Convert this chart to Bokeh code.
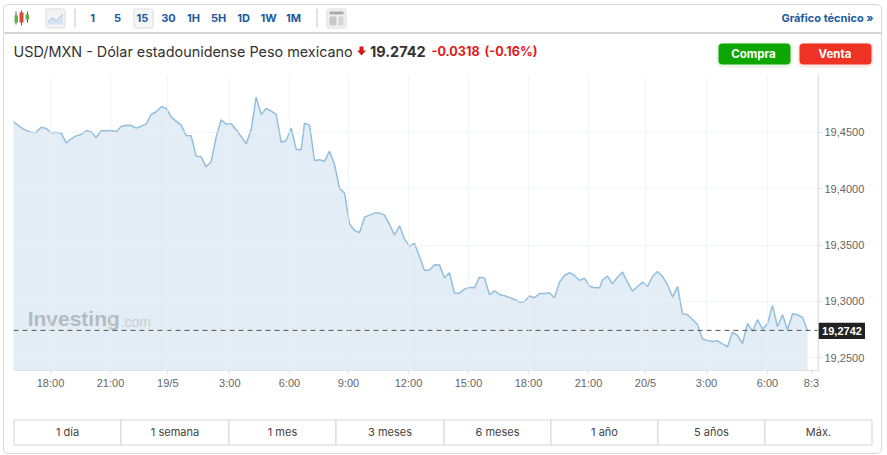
from bokeh.plotting import figure
from bokeh.layouts import column
from bokeh.models import FixedTicker, Span, Div, Range1d
from bokeh.core.properties import value
from bokeh.embed import file_html
from bokeh.resources import INLINE
import numpy as np

# ---------- data ----------
prices_a = [19.4610,19.4577,19.4544,19.4518,19.4503,19.4500,19.4547,19.4536,19.4497,19.4503,19.4494,19.4408,19.4444,19.4470,19.4482,19.4515,19.4506,19.4456,19.4515,19.4515,19.4518,19.4506,19.4553,19.4565,19.4562,19.4539,19.4556,19.4574,19.4660,19.4684,19.4728,19.4716,19.4639,19.4601,19.4565,19.4473,19.4470,19.4290,19.4284,19.4195,19.4240,19.4459,19.4613,19.4574,19.4580,19.4524,19.4465,19.4399,19.4524,19.4814,19.4660,19.4713,19.4689,19.4660,19.4414,19.4429,19.4539,19.4352,19.4346]
prices_b = [19.4583,19.4565,19.4251,19.4257,19.4245,19.4334,19.4216,19.4006,19.3961,19.3689,19.3630,19.3609,19.3748,19.3766,19.3784,19.3784,19.3766,19.3683,19.3588,19.3671,19.3553,19.3491,19.3514,19.3399,19.3275,19.3278,19.3325,19.3322,19.3209,19.3254,19.3073,19.3073,19.3109,19.3124,19.3121,19.3215,19.3207,19.3059,19.3094,19.3061,19.3050,19.3035,19.3017,19.2993,19.2999,19.3047,19.3032,19.3070,19.3070,19.3076,19.3032,19.3171,19.3230,19.3254,19.3230,19.3186,19.3207,19.3135,19.3121,19.3121]
prices_c = [19.3192,19.3224,19.3156,19.3215,19.3260,19.3171,19.3091,19.3132,19.3171,19.3132,19.3221,19.3266,19.3221,19.3147,19.3038,19.3132,19.2890,19.2881,19.2839,19.2795,19.2665,19.2653,19.2644,19.2650,19.2623,19.2597,19.2727,19.2697,19.2626,19.2804,19.2733,19.2839,19.2753,19.2801,19.2964,19.2774,19.2881,19.2748,19.2890,19.2881,19.2857,19.2742]
seg_start = [-1.0, 57.67, 117.27]
last_price = 19.2742
x_ticks = [6.87,18.87,30.33,42.73,54.67,66.47,78.47,90.47,102.47,114.47,125.87,138.07,150.27]
x_labels = ["18:00","21:00","19/5","3:00","6:00","9:00","12:00","15:00","18:00","21:00","20/5","3:00","6:00"]
y_ticks = [19.25,19.30,19.35,19.40,19.45]
y_labels = ["19,2500","19,3000","19,3500","19,4000","19,4500"]
range_labels = ["1 día","1 semana","1 mes","3 meses","6 meses","1 año","5 años","Máx."]
interval_labels = ["1","5","15","30","1H","5H","1D","1W","1M"]

t = np.concatenate([s + np.arange(len(v)) for s, v in zip(seg_start, [prices_a, prices_b, prices_c])])
prices = prices_a + prices_b + prices_c

UI = value("Inter")
AX = value("Liberation Sans")
BLUE = "#1c5a9e"

def chrome(h0, h1, x0=0, x1=887, **kw):
    f = figure(width=x1-x0, height=h1-h0, x_range=(x0,x1), y_range=(h1,h0), output_backend="svg",
               toolbar_location=None, x_axis_location=None, y_axis_location=None, min_border=0,
               frame_align=False, outline_line_color=None, background_fill_color=None, border_fill_color=None, **kw)
    f.grid.visible = False
    return f

# ---------- header ----------
h = chrome(0, 74)
h.segment([74.5,316.5,4],[8,8,32.5],[74.5,316.5,882],[27,27,32.5],line_color=["#c4c4c4","#c4c4c4","#aaaaaa"],line_width=1)
# candle icon
h.segment([15.5,21,27],[11,10,11],[15.5,21,27],[24,25,22],line_color="#555555",line_width=1)
h.quad(left=[14,19,25],right=[17.5,23,28.5],top=[15,12,14],bottom=[22,22,19],fill_color=["#5cb050","#e0453a","#5cb050"],line_color=None)
# line icon
h.quad(left=[45.5],right=[64.5],top=[8.5],bottom=[27.5],fill_color="#f1f3f5",line_color="#dddddd",border_radius=2)
h.patch([47.5,52,56,60,62.5,62.5,47.5],[21,17.5,20,16,14,24,24],fill_color="#d5e2ef",line_color=None)
h.line([47.5,52,56,60,62.5],[21,17.5,20,16,14],line_color="#a4c2de",line_width=1)
# selected interval and layout icon
h.quad(left=[133.5],right=[152.5],top=[8.5],bottom=[27.5],fill_color="#f5f6f7",line_color="#dddddd",border_radius=2)
h.quad(left=[326.5],right=[345.5],top=[8.5],bottom=[27.5],fill_color="#f0f0f0",line_color="#dddddd",border_radius=2)
h.quad(left=[329,329,338],right=[343,336,343],top=[11,16,16],bottom=[14,25,25],fill_color=["#aaaaaa","#c8c8c8","#d4d4d4"],line_color=None)
h.text(x=[92,117,142,168,193,218,243,268,293],y=[17]*9,text=interval_labels,text_font=UI,text_font_size="11px",
       text_font_style="bold",text_color=BLUE,text_align="center",text_baseline="middle")
h.text(x=[873],y=[17],text=["Gráfico técnico »"],text_font=UI,text_font_size="11px",text_font_style="bold",
       text_color=BLUE,text_align="right",text_baseline="middle")
h.text(x=[13],y=[50.5],text=["USD/MXN - Dólar estadounidense Peso mexicano"],text_font=UI,text_font_size="14.4px",
       text_color="#333333",text_align="left",text_baseline="middle")
h.patch([359,363,363,365.5,361,356.5,359],[46,46,50,50,55,50,50],fill_color="#d61a1a",line_color=None)
h.text(x=[369.5],y=[50.5],text=["19.2742"],text_font=UI,text_font_size="14.5px",text_font_style="bold",
       text_color="#333333",text_align="left",text_baseline="middle")
h.text(x=[431,484],y=[50.5,50.5],text=["-0.0318","(-0.16%)"],text_font=UI,text_font_size="12.6px",text_font_style="bold",
       text_color="#e01b1b",text_align="left",text_baseline="middle")
h.quad(left=[716,797],right=[792,873],top=[42,42],bottom=[67,67],fill_color=["#0ea600","#ee3224"],fill_alpha=0.1,line_color=None,border_radius=6)
h.quad(left=[718,799],right=[790,871],top=[43,43],bottom=[64,64],fill_color=["#0ea600","#ee3224"],line_color=None,border_radius=4)
h.text(x=[753,834.5],y=[53.5,53.5],text=["Compra","Venta"],text_font=UI,text_font_size="11.5px",text_font_style="bold",
       text_color="#ffffff",text_align="center",text_baseline="middle")

# ---------- chart ----------
p = figure(width=887, height=321, frame_width=805, frame_height=296, output_backend="svg", toolbar_location=None,
           x_range=Range1d(-0.534,160.47), y_range=Range1d(19.2386,19.5015), y_axis_location="right",
           min_border_left=13, min_border_right=69, min_border_top=0, min_border_bottom=25, frame_align=False,
           outline_line_color=None, background_fill_color=None, border_fill_color=None)
p.varea(t, [19.2386]*len(t), prices, fill_color="#e3edf5")
p.line(t, prices, line_color="#93bfdf", line_width=1.5)
p.xaxis.ticker = FixedTicker(ticks=x_ticks+[159.07])
p.xaxis.major_label_overrides = {**dict(zip(x_ticks,x_labels)), 159.07:"8:3"}
p.yaxis.ticker = FixedTicker(ticks=y_ticks)
p.yaxis.major_label_overrides = dict(zip(y_ticks,y_labels))
p.xgrid.ticker = FixedTicker(ticks=x_ticks+[160.2])
p.ygrid.ticker = FixedTicker(ticks=y_ticks)
p.grid.grid_line_color = "#e9eef3"
p.grid.grid_line_alpha = 0.6
p.grid.level = "overlay"
for ax in (p.xaxis[0], p.yaxis[0]):
    ax.axis_line_color = "#dde3e8"
    ax.major_tick_line_color = "#dde3e8"
    ax.major_tick_out = 4
    ax.major_tick_in = 0
    ax.minor_tick_line_color = None
    ax.major_label_text_font = "Liberation Sans"
    ax.major_label_text_font_size = "11px"
    ax.major_label_text_color = "#666666"
    ax.major_label_standoff = 2
p.add_layout(Span(location=last_price, dimension="width", line_color="#555555", line_dash="5 4", line_width=1))
p.text(x=[2.3],y=[19.2847],text=["Investing"],text_font=AX,text_font_size="21px",text_font_style="bold",
       text_color="#b4bbc0",text_align="left",text_baseline="middle")
p.text(x=[20.9],y=[19.2818],text=[".com"],text_font=AX,text_font_size="14px",text_color="#c6cdd2",
       text_align="left",text_baseline="middle")

# ---------- price tag ----------
tag = chrome(322, 339, 818, 865, styles={"position":"absolute","left":"818px","top":"322px"})
tag.quad(left=[818],right=[865],top=[322],bottom=[339],fill_color="#222222",line_color=None)
tag.text(x=[841.5],y=[330.5],text=["19,2742"],text_font=AX,text_font_size="11px",text_font_style="bold",
         text_color="#ffffff",text_align="center",text_baseline="middle")

# ---------- footer ----------
edges = [13.5,120.5,228.5,335.5,443.5,550.5,657.5,764.5,871.5]
f = chrome(395, 455)
f.quad(left=edges[:-1],right=edges[1:],top=[419.5]*8,bottom=[444.5]*8,fill_color="#ffffff",line_color="#d5d5d5")
f.text(x=[(a+b)/2 for a,b in zip(edges[:-1],edges[1:])],y=[431]*8,text=range_labels,text_font=UI,text_font_size="11px",
       text_color="#444444",text_align="center",text_baseline="middle")

card = Div(text="",margin=0,styles={"position":"absolute","left":"3px","top":"4px","width":"879px","height":"450px",
                           "border":"1px solid #d8d8d8","border-radius":"5px","box-sizing":"border-box","pointer-events":"none"})
root = column(h,p,f,tag,card,spacing=0,styles={"position":"absolute","left":"0","top":"0"})
open("out.html","w").write(file_html(root,INLINE))
